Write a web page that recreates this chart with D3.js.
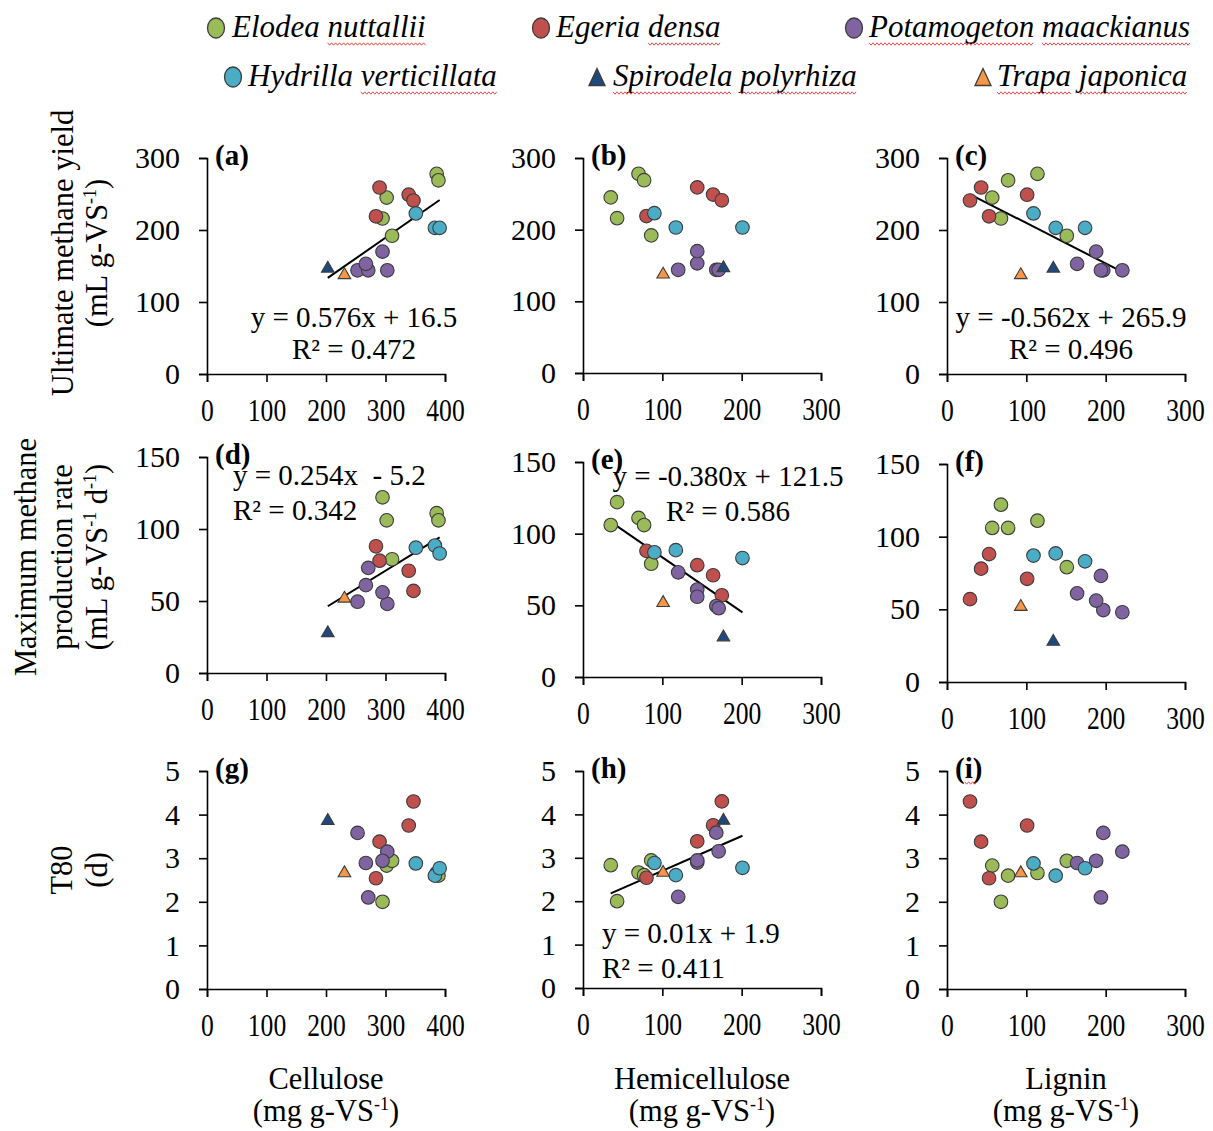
<!DOCTYPE html>
<html><head><meta charset="utf-8">
<script src="https://cdn.jsdelivr.net/npm/d3@7"></script>
<style>
body{margin:0;background:#fff}
svg{display:block}
text{font-family:"Liberation Serif","Times New Roman",serif;fill:#000}
</style>
</head><body>
<svg id="chart" width="1213" height="1131"></svg>
<script>
// ---------------- DATA ----------------
const species = ["Elodea nuttallii","Egeria densa","Potamogeton maackianus","Hydrilla verticillata","Spirodela polyrhiza","Trapa japonica"];
const speciesColors = ["#9BBB59","#C0504D","#8064A2","#4BACC6","#1F497D","#F79646"];
const speciesShape = ["circle","circle","circle","circle","triangle","triangle"];
const speciesSquiggleWords = [[false,true],[false,true],[true,true],[false,true],[true,true],[true,true]];

// one entry per sample
const sampleSpecies = [0,0,0,0,0, 1,1,1,1, 2,2,2,2,2, 3,3,3, 4, 5];
const cellulose     = [386,389,302,295,311, 290,284,339,347, 253,271,303,267,295, 351,383,391, 203, 231];
const hemicellulose = [70,77,35,43,86, 144,80,164,175, 168,120,171,144,144, 90,117,201, 177, 101];
const lignin        = [114,77,57,68,151, 43,53,101,29, 197,194,221,164,188, 109,137,174, 134, 93];
const methaneYield  = [278,269,245,216,192, 259,219,249,241, 144,144,144,153,170, 223,203,203, 149, 140];
const maxRate       = [111,106,106,122,79, 78,88,71,57, 49.5,73,48,61,56, 87,88.5,83, 29, 53];
const t80           = [2.66,2.60,2.83,2.00,2.94, 3.38,2.54,3.75,4.30, 3.58,2.10,3.15,2.89,2.94, 2.88,2.60,2.77, 3.90, 2.70];

const celluloseTicks = [0,100,200,300,400];
const hemiLigninTicks = [0,100,200,300];
const yieldTicks = [0,100,200,300];
const rateTicks = [0,50,100,150];
const t80Ticks = [0,1,2,3,4,5];

const panelLetters = ["a","b","c","d","e","f","g","h","i"];
const panelOmitSpecies = [[],[],[],[],[],[],[],[],[4]];

// trend lines
const fitPanel     = ["a","c","d","e","h"];
const fitSlope     = [0.576,-0.562,0.254,-0.380,0.008];
const fitIntercept = [16.5,265.9,-5.2,121.5,1.9];
const fitEquation  = ["y = 0.576x + 16.5","y = -0.562x + 265.9","y = 0.254x  - 5.2","y = -0.380x + 121.5","y = 0.01x + 1.9"];
const fitR2        = ["R² = 0.472","R² = 0.496","R² = 0.342","R² = 0.586","R² = 0.411"];

// ---------------- LAYOUT ----------------
const colLeft = [207,583,947];
const plotW = 238;
const panelTop = [[158,158,158],[457,462,464],[771,771,771]];
const panelBottom = [[374,373,374],[673,677,682],[989,988,989]];
const fitLayout = {
  a:{anchor:"middle",dx:147,dy1:169,dy2:201},
  c:{anchor:"middle",dx:124,dy1:169,dy2:201},
  d:{anchor:"start",dx:26,dy1:28,dy2:63},
  e:{anchor:"middle",dx:145,dy1:24,dy2:59},
  h:{anchor:"start",dx:19,dy1:172,dy2:207}
};

const xValues = [cellulose, hemicellulose, lignin];
const yValues = [methaneYield, maxRate, t80];
const xTickSets = [celluloseTicks, hemiLigninTicks, hemiLigninTicks];
const yTickSets = [yieldTicks, rateTicks, t80Ticks];

const svg = d3.select("#chart");
const markerStroke = "#3c3c3c";
const squiggleColor = "#e8474a";

function squigglePath(x0, x1, y) {
  const pts = [];
  let k = 0;
  for (let xx = x0; xx <= x1; xx += 2, k++) pts.push([xx, y + (k % 2 ? 1.2 : -1.2)]);
  return d3.line()(pts);
}
function triPath(w, h) {
  return `M0,${-h/2}L${w/2},${h/2}L${-w/2},${h/2}Z`;
}

// ---------------- PANELS ----------------
for (let r = 0; r < 3; r++) {
  for (let c = 0; c < 3; c++) {
    const idx = r*3 + c;
    const letter = panelLetters[idx];
    const left = colLeft[c], top = panelTop[r][c], bottom = panelBottom[r][c];
    const xTicks = xTickSets[c], yTicks = yTickSets[r];
    const x = d3.scaleLinear().domain([0, d3.max(xTicks)]).range([left, left + plotW]);
    const y = d3.scaleLinear().domain([0, d3.max(yTicks)]).range([bottom, top]);
    const g = svg.append("g").attr("class", "panel-" + letter);

    const xAxis = g.append("g").attr("transform", `translate(0,${bottom})`)
      .call(d3.axisBottom(x).tickValues(xTicks).tickSize(8).tickPadding(16).tickFormat(d3.format("d")));
    xAxis.selectAll("text").attr("font-size", 32).attr("font-family", null)
      .attr("transform", "scale(0.8,1)");
    const yAxis = g.append("g").attr("transform", `translate(${left},0)`)
      .call(d3.axisLeft(y).tickValues(yTicks).tickSize(8).tickPadding(19).tickFormat(d3.format("d")));
    yAxis.selectAll("text").attr("font-size", 30).attr("font-family", null);
    [xAxis, yAxis].forEach(a => {
      a.attr("font-family", null);
      a.select(".domain").attr("stroke", "#000").attr("stroke-width", 1.6);
      a.selectAll(".tick line").attr("stroke", "#000").attr("stroke-width", 1.6);
    });

    // trend line
    const fi = fitPanel.indexOf(letter);
    const visible = d3.range(sampleSpecies.length).filter(k => !panelOmitSpecies[idx].includes(sampleSpecies[k]));
    if (fi >= 0) {
      const ext = d3.extent(visible, k => xValues[c][k]);
      g.append("path")
        .attr("d", d3.line()(ext.map(v => [x(v), y(fitSlope[fi]*v + fitIntercept[fi])])))
        .attr("stroke", "#000").attr("stroke-width", 2).attr("fill", "none");
    }

    // points
    visible.forEach(k => {
      const s = sampleSpecies[k];
      const px = x(xValues[c][k]), py = y(yValues[r][k]);
      if (speciesShape[s] === "circle") {
        g.append("circle").attr("cx", px).attr("cy", py).attr("r", 6.8)
          .attr("fill", speciesColors[s]).attr("stroke", markerStroke).attr("stroke-width", 1.1);
      } else {
        g.append("path").attr("d", triPath(12.6, 10.8)).attr("transform", `translate(${px},${py})`)
          .attr("fill", speciesColors[s]).attr("stroke", markerStroke).attr("stroke-width", 1.1);
      }
    });

    // panel letter
    const lab = g.append("text").attr("x", left + 8).attr("y", top + 7)
      .attr("font-size", 29).attr("font-weight", "bold").text(`(${letter})`);
    if (letter === "i") {
      const n = lab.node();
      const sx = left + 8 + n.getSubStringLength(0, 1);
      const sw = n.getSubStringLength(1, 1);
      g.append("path").attr("d", squigglePath(sx, sx + sw + 4, top + 12))
        .attr("stroke", squiggleColor).attr("stroke-width", 1).attr("fill", "none");
    }

    // equations
    if (fi >= 0) {
      const L = fitLayout[letter];
      g.append("text").attr("x", left + L.dx).attr("y", top + L.dy1).attr("text-anchor", L.anchor)
        .attr("font-size", 29).style("white-space", "pre").text(fitEquation[fi]);
      g.append("text").attr("x", left + L.dx).attr("y", top + L.dy2).attr("text-anchor", L.anchor)
        .attr("font-size", 29).text(fitR2[fi]);
    }
  }
}

// ---------------- AXIS TITLES ----------------
function addSup(textSel, parts) {
  let pending = 0;
  parts.forEach(p => {
    if (p.sup) {
      textSel.append("tspan").attr("font-size", 18).attr("dy", -11 + pending).text(p.t);
      pending = 11;
    } else {
      const ts = textSel.append("tspan").text(p.t);
      if (pending) ts.attr("dy", pending);
      pending = 0;
    }
  });
}
const unitsVS = [{t:"(mL g-VS"},{t:"-1",sup:true},{t:")"}];
const unitsRate = [{t:"(mL g-VS"},{t:"-1",sup:true},{t:" d"},{t:"-1",sup:true},{t:")"}];
const unitsMg = [{t:"(mg g-VS"},{t:"-1",sup:true},{t:")"}];

const yTitleRows = [
  {cy:253, lines:[{x:73, parts:[{t:"Ultimate methane yield"}]},{x:107, parts:unitsVS}]},
  {cy:557, lines:[{x:36, parts:[{t:"Maximum methane"}]},{x:72, parts:[{t:"production rate"}]},{x:107, parts:unitsRate}]},
  {cy:870, lines:[{x:72, parts:[{t:"T80"}]},{x:107, parts:[{t:"(d)"}]}]}
];
yTitleRows.forEach(row => row.lines.forEach(l => {
  const t = svg.append("text").attr("text-anchor", "middle").attr("font-size", 30.5)
    .attr("transform", `translate(${l.x},${row.cy}) rotate(-90)`);
  addSup(t, l.parts);
}));

const xTitles = ["Cellulose","Hemicellulose","Lignin"];
xTitles.forEach((name, c) => {
  const cx = colLeft[c] + plotW/2;
  svg.append("text").attr("x", cx).attr("y", 1089).attr("text-anchor", "middle").attr("font-size", 30.5).text(name);
  const t = svg.append("text").attr("x", cx).attr("y", 1121).attr("text-anchor", "middle").attr("font-size", 30.5);
  addSup(t, unitsMg);
});

// ---------------- LEGEND ----------------
const legendMarkerX = [216,541,854,233,597,983];
const legendTextX = [232,556,869,248,613,997];
const legendBaseline = [37,86];
const legendMarkerY = [28,77];
species.forEach((name, s) => {
  const row = s < 3 ? 0 : 1;
  const mx = legendMarkerX[s], my = legendMarkerY[row];
  if (speciesShape[s] === "circle") {
    svg.append("ellipse").attr("cx", mx).attr("cy", my).attr("rx", 8.5).attr("ry", 10)
      .attr("fill", speciesColors[s]).attr("stroke", markerStroke).attr("stroke-width", 1.3);
  } else {
    svg.append("path").attr("d", triPath(16, 17)).attr("transform", `translate(${mx},${my})`)
      .attr("fill", speciesColors[s]).attr("stroke", markerStroke).attr("stroke-width", 1.3);
  }
  const tx = legendTextX[s];
  const t = svg.append("text").attr("x", tx).attr("y", legendBaseline[row])
    .attr("font-size", 31).attr("font-style", "italic").text(name);
  const node = t.node();
  const words = name.split(" ");
  let pos = 0;
  words.forEach((w, wi) => {
    const start = name.indexOf(w, pos);
    pos = start + w.length;
    if (speciesSquiggleWords[s][wi]) {
      const x0 = tx + node.getSubStringLength(0, start);
      const wd = node.getSubStringLength(start, w.length);
      svg.append("path").attr("d", squigglePath(x0, x0 + wd, legendBaseline[row] + 7))
        .attr("stroke", squiggleColor).attr("stroke-width", 1).attr("fill", "none");
    }
  });
});
</script>
</body></html>
